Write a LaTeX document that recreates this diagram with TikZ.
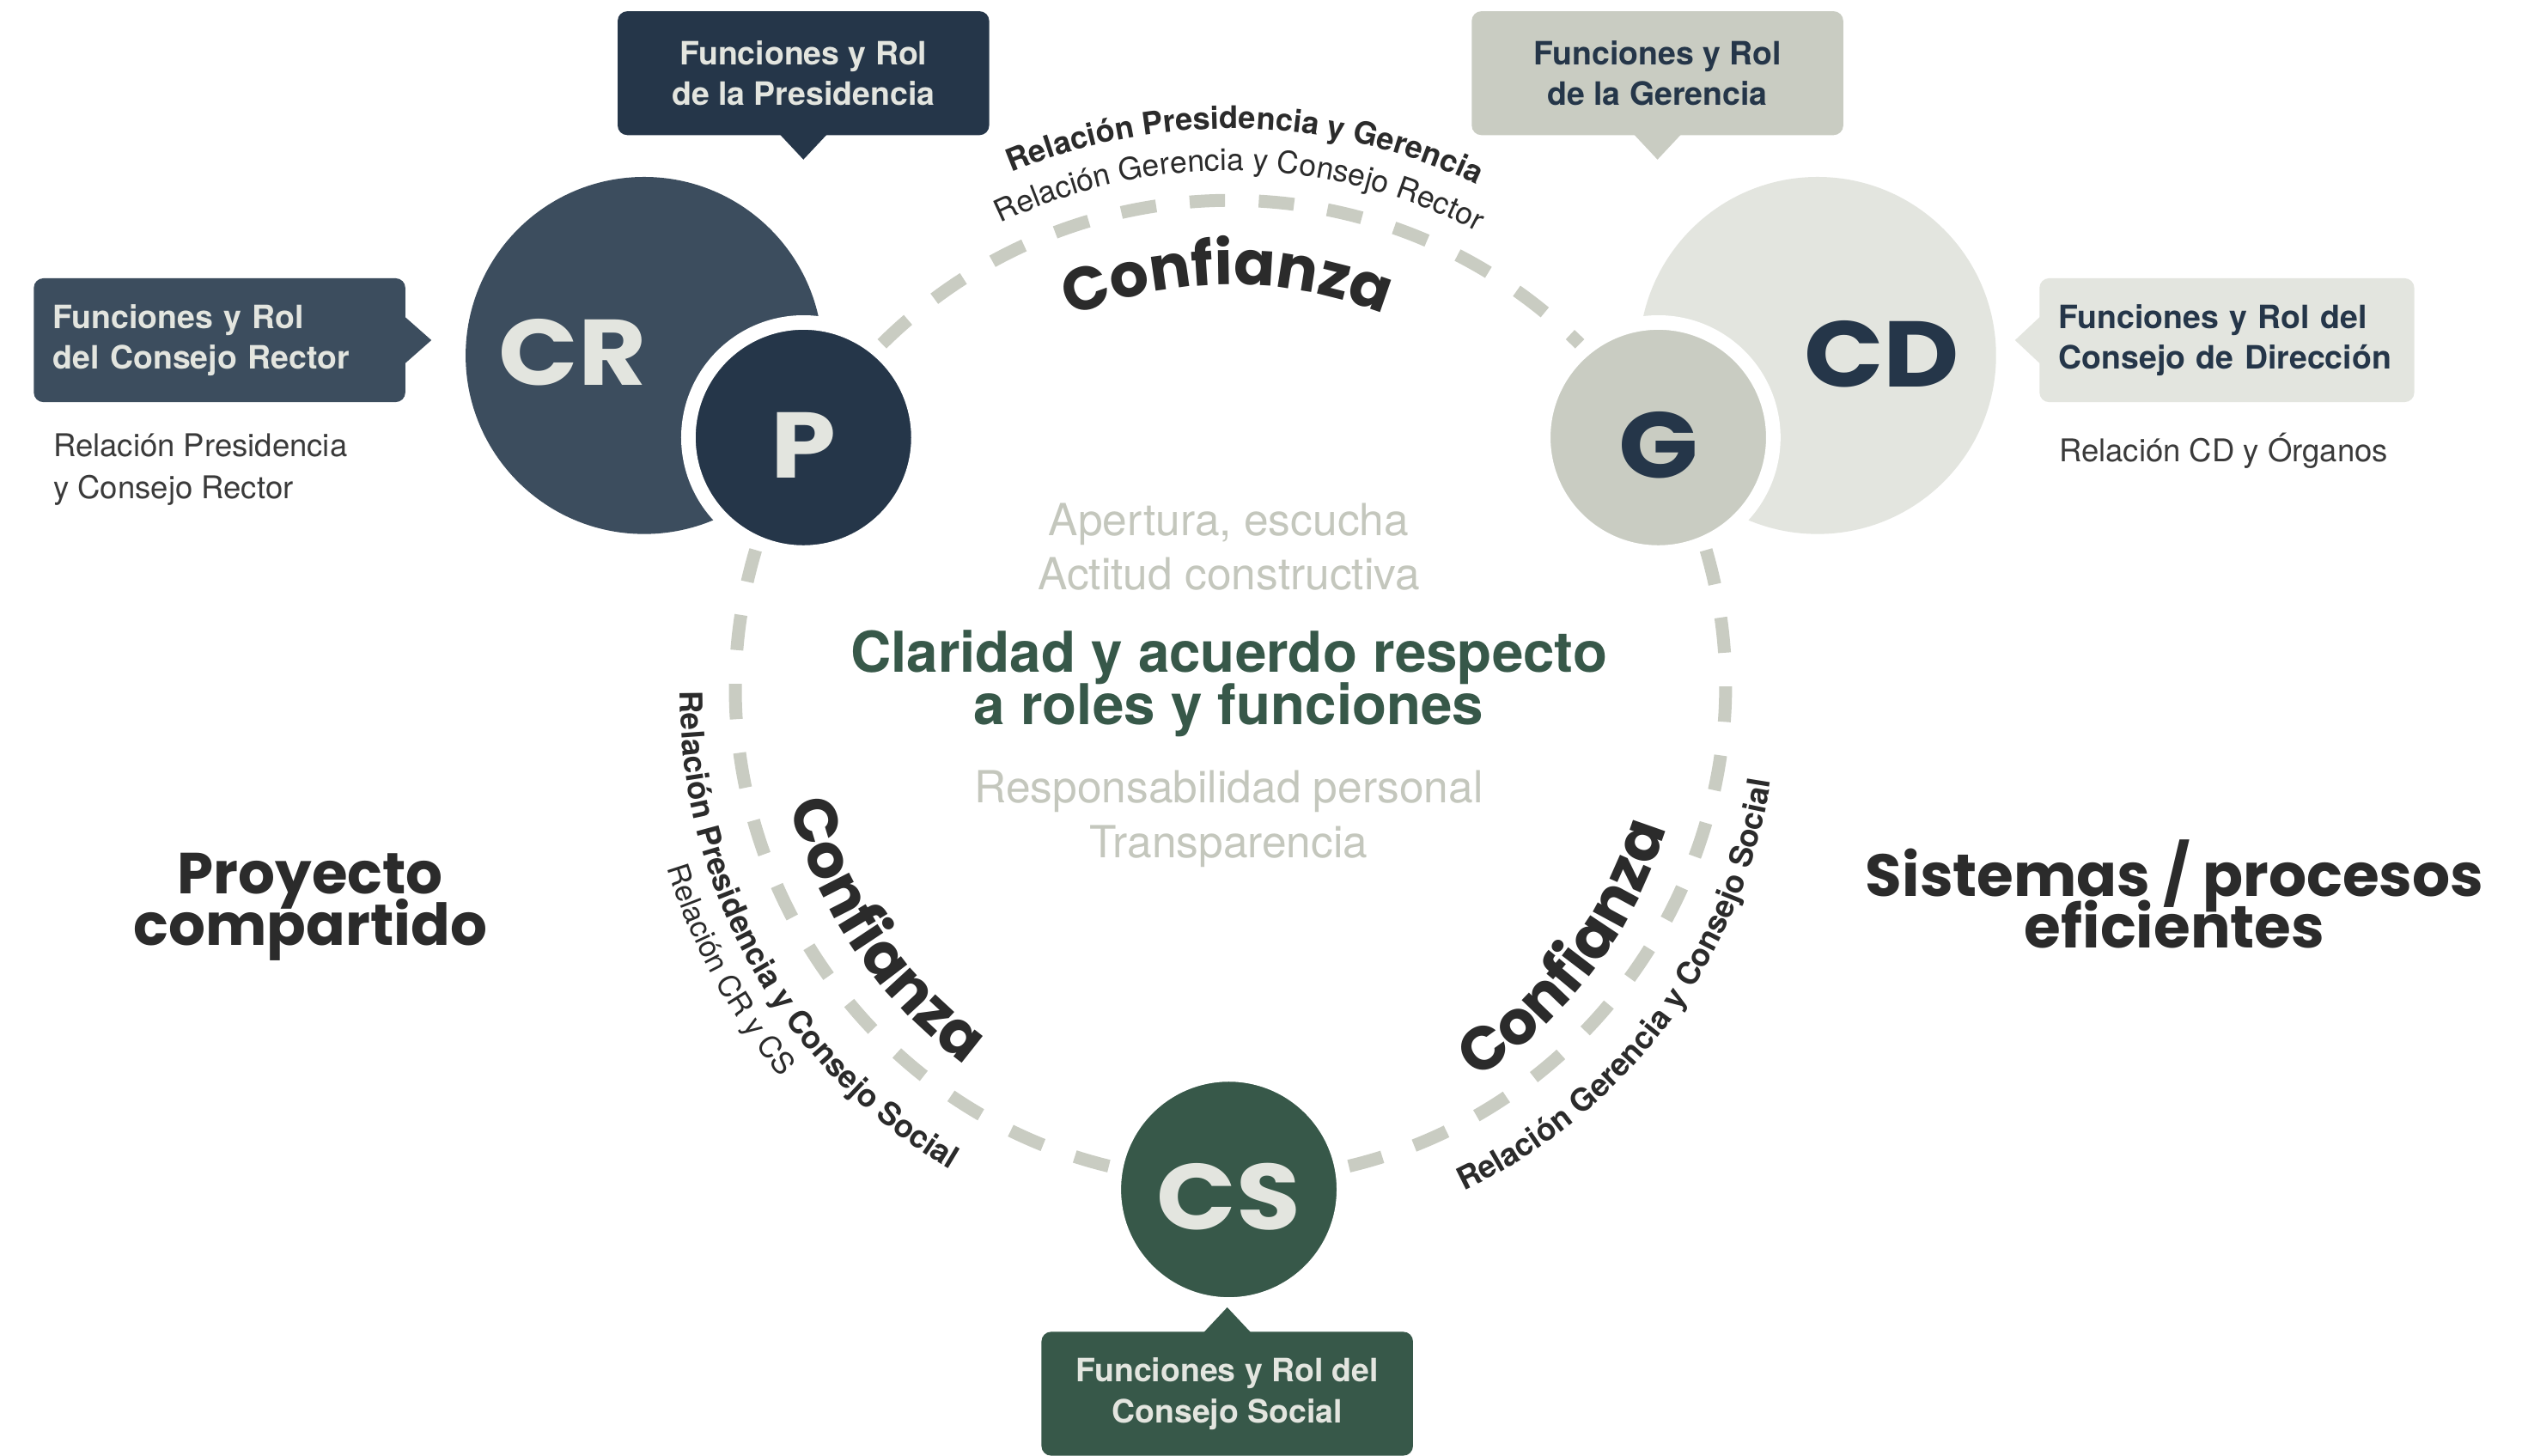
\documentclass[tikz,border=0pt]{standalone}
\usepackage{fontspec}
\setmainfont{TeX Gyre Heros}
\newfontfamily\widefont{Poppins}
\newfontfamily\discfont{Poppins}[FakeStretch=1.12]
\usetikzlibrary{decorations.text}

\definecolor{navy}{HTML}{253649}
\definecolor{slate}{HTML}{3C4D5E}
\definecolor{pine}{HTML}{375849}
\definecolor{sage}{HTML}{C9CCC2}
\definecolor{mist}{HTML}{E3E5DF}
\definecolor{ink}{HTML}{2B2B2B}
\definecolor{greytext}{HTML}{3A3A3A}
\definecolor{soft}{HTML}{C4C7BD}

\newcommand{\tightlines}{\lineskiplimit=-50pt\relax}
\newcommand{\bigtype}{\discfont\bfseries\fontsize{58}{58}\selectfont}
\newcommand{\boxtype}{\bfseries\fontsize{20}{25.5}\selectfont}
\newcommand{\arcbold}{\bfseries\fontsize{19.3}{19.3}\selectfont}
\newcommand{\sidebold}{\bfseries\fontsize{19.5}{19.5}\selectfont}
\newcommand{\arcthin}{\fontsize{19}{19}\selectfont}
\newcommand{\sidethin}{\fontsize{18.5}{18.5}\selectfont}
\newcommand{\trusttype}{\widefont\bfseries\fontsize{38}{38}\selectfont}

\begin{document}
\begin{tikzpicture}
  [x=1pt,y=1pt,
   big disc/.style={circle,inner sep=0pt,minimum size=222pt},
   small disc/.style={circle,inner sep=0pt,minimum size=143pt,draw=white,line width=9pt,
     font=\bigtype,text height=50pt,text depth=0pt},
   info box/.style={rounded corners=6pt,inner sep=0pt,minimum width=231pt,minimum height=77pt,
     align=center,font=\boxtype},
   side box/.style={info box,align=left,inner xsep=12pt},
   ring link/.style={sage,line width=8pt,dash pattern=on 22pt off 21pt},
   note/.style={anchor=west,align=left,inner xsep=0pt,text=greytext,font=\fontsize{19.5}{26}\selectfont},
   soft text/.style={align=center,text=soft,font=\fontsize{27.5}{34}\selectfont},
   key text/.style={align=center,text=pine,font=\bfseries\fontsize{35}{33}\selectfont\tightlines},
   wide text/.style={align=center,text=ink,font=\widefont\bfseries\fontsize{36}{32}\selectfont\tightlines},
   arc label/.style={decorate,decoration={text along path,text align=center,text color=ink,text={#1}}}]

  \fill[white] (0,0) rectangle (1568,-905);
  \useasboundingbox (0,0) rectangle (1568,-905);
  \coordinate (ring) at (765,-433);

  % big circles first, small ones on top
  \node[big disc, fill=slate, label={[font=\bigtype,text=mist,xshift=-44.5pt,yshift=2pt]center:CR}] (CR) at (400.5,-221) {};
  \node[big disc, fill=mist, label={[font=\bigtype,text=navy,xshift=40pt,yshift=1pt]center:CD}] (CD) at (1130,-221) {};
  \node[small disc, fill=navy, text=mist] (P) at (499.5,-272) {P};
  \node[small disc, fill=sage, text=navy] (G) at (1031,-272) {G};
  \node[small disc, fill=pine, text=mist] (CS) at (764,-739.5) {CS};

  % callouts
  \node[info box, fill=navy, text=mist] (pres) at (499.5,-45.5) {Funciones y Rol\\de la Presidencia};
  \node[info box, fill=sage, text=navy] (ger) at (1030.5,-45.5) {Funciones y Rol\\de la Gerencia};
  \node[side box, fill=slate, text=mist, text width=207pt] (rector) at (136.5,-211.5) {Funciones y Rol\\del Consejo Rector};
  \node[side box, fill=mist, text=navy, text width=209pt] (direc) at (1384.5,-211.5) {Funciones y Rol del\\Consejo de Dirección};
  \node[info box, fill=pine, text=mist] (social) at (763,-866.5) {Funciones y Rol del\\Consejo Social};

  \fill[navy] ([xshift=-15pt,yshift=1pt]pres.south) -- ([xshift=15pt,yshift=1pt]pres.south) -- ([yshift=-15pt]pres.south) -- cycle;
  \fill[sage] ([xshift=-15pt,yshift=1pt]ger.south) -- ([xshift=15pt,yshift=1pt]ger.south) -- ([yshift=-15pt]ger.south) -- cycle;
  \fill[slate] ([xshift=-1pt,yshift=15pt]rector.east) -- ([xshift=-1pt,yshift=-15pt]rector.east) -- ([xshift=16pt]rector.east) -- cycle;
  \fill[mist] ([xshift=1pt,yshift=15pt]direc.west) -- ([xshift=1pt,yshift=-15pt]direc.west) -- ([xshift=-15pt]direc.west) -- cycle;
  \fill[pine] ([xshift=-15pt,yshift=-1pt]social.north) -- ([xshift=15pt,yshift=-1pt]social.north) -- ([yshift=15pt]social.north) -- cycle;

  % dashed ring
  \draw[ring link] (P.50) to[bend left=44.7] (G.130);
  \draw[ring link] (G.-67) to[bend left=46.5] (CS.11);
  \draw[ring link] (CS.169) to[bend left=46.5] (P.247);

  % labels along the ring
  \path[arc label={|\trusttype|Confianza}] ([shift={(150.5:256)}]ring) arc (150.5:30.5:256);
  \path[arc label={|\arcbold|Relación Presidencia y Gerencia}] ([shift={(148.5:353)}]ring) arc (148.5:28.5:353);
  \path[arc label={|\arcthin|Relación Gerencia y Consejo Rector}] ([shift={(149:327)}]ring) arc (149:29:327);
  \path[arc label={|\trusttype|Confianza}] ([shift={(154:282)}]ring) arc (154:274:282);
  \path[arc label={|\sidebold|Relación Presidencia y Consejo Social}] ([shift={(149.4:342)}]ring) arc (149.4:269.4:342);
  \path[arc label={|\sidethin|Relación CR y CS}] ([shift={(148.6:366)}]ring) arc (148.6:268.6:366);
  \path[arc label={|\trusttype|Confianza}] ([shift={(263:283)}]ring) arc (263:383:283);
  \path[arc label={|\sidebold|Relación Gerencia y Consejo Social}] ([shift={(263.2:340)}]ring) arc (263.2:383.2:340);

  % texts
  \node[note] (relcr) at (33,-292) {Relación Presidencia\\y Consejo Rector};
  \node[note] (relcd) at (1280,-280) {Relación CD y Órganos};
  \node[soft text] (open) at (764,-340) {Apertura, escucha\\Actitud constructiva};
  \node[key text] (clear) at (764,-425) {Claridad y acuerdo respecto\\a roles y funciones};
  \node[soft text] (resp) at (764,-509) {Responsabilidad personal\\Transparencia};
  \node[wide text] (proy) at (193,-564) {Proyecto\\compartido};
  \node[wide text, font=\widefont\bfseries\fontsize{37}{32}\selectfont\tightlines] (sist) at (1352,-556) {Sistemas / procesos\\eficientes};

\end{tikzpicture}
\end{document}
